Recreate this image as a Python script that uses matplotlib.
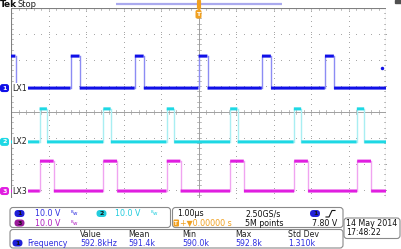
import numpy as np
import matplotlib.pyplot as plt
from matplotlib.patches import FancyBboxPatch, Rectangle

# horizontal scale: 1.00 us/div, 10 divisions, trigger at centre
# edge times (us, relative to trigger)
ch1_rise = [-5.12, -3.41, -1.70, 0.00, 1.69, 3.37, 5.08]
ch1_width = 0.24
ch2_rise = [-4.24, -2.54, -0.85, 0.84, 2.54, 4.22]
ch2_width = 0.20
ch3_rise = [-4.23, -2.54, -0.85, 0.84, 2.55, 4.23]
ch3_width = 0.37

# vertical: 10.0 V/div, ground marker positions (div) and pulse height (V)
ch_pos = [0.92, -1.15, -3.04]
ch_high = [12.3, 12.7, 11.5]
volts_per_div = 10.0

ch_names = ['LX1', 'LX2', 'LX3']
ch_colors = ['#1010e8', '#1ed8e4', '#e01ee0']
ch_edge_colors = ['#8c8cf4', '#a8eef2', '#f0a4f0']
ch_marker_colors = ['#2020d8', '#22ccdd', '#9a1a9a']

meas_headers = ['Value', 'Mean', 'Min', 'Max', 'Std Dev']
meas_values = ['592.8kHz', '591.4k', '590.0k', '592.8k', '1.310k']

fig = plt.figure(figsize=(4.01, 2.49), dpi=100)
fig.patch.set_facecolor('white')

# scope graticule: x 11..386 px, y 8..198 px (26 px/div)
ax = fig.add_axes([11 / 401, 1 - 198 / 249, 375 / 401, 190 / 249])
ymin = 4 - 190 / 26
ax.set_xlim(-5, 5)
ax.set_ylim(ymin, 4)
ax.axis('off')

grid_c = '#a0a0a0'
# dotted grid
for gx in range(-4, 5):
    if gx == 0:
        continue
    yy = np.arange(ymin, 4.001, 0.2)
    ax.plot(np.full_like(yy, gx), yy, ls='none', marker='s', ms=0.6, color=grid_c, mew=0)
for gy in range(-3, 4):
    if gy == 0:
        continue
    xx = np.arange(-5, 5.001, 0.2)
    ax.plot(xx, np.full_like(xx, gy), ls='none', marker='s', ms=0.6, color=grid_c, mew=0)
# centre cross and border with ticks
ax.plot([-5, 5], [0, 0], color='#909090', lw=0.6)
ax.plot([0, 0], [ymin, 4], color='#909090', lw=0.6)
tx = 2 / 37.5
ty = 2 / 26
for xt in np.arange(-5, 5.001, 0.2):
    ax.plot([xt, xt], [-ty, ty], color=grid_c, lw=0.5)
    ax.plot([xt, xt], [4, 4 - ty], color=grid_c, lw=0.5)
for yt in np.arange(4, ymin, -0.2):
    ax.plot([-tx, tx], [yt, yt], color=grid_c, lw=0.5)
    ax.plot([-5, -5 + tx], [yt, yt], color=grid_c, lw=0.5)
    ax.plot([5, 5 - tx], [yt, yt], color=grid_c, lw=0.5)
ax.plot([-5, -5, 5, 5], [ymin, 4, 4, ymin], color='#808080', lw=0.8)

# traces
t = np.linspace(-5, 5, 4001)
for rises, width, pos, high, col, ecol in zip(
        [ch1_rise, ch2_rise, ch3_rise], [ch1_width, ch2_width, ch3_width],
        ch_pos, ch_high, ch_colors, ch_edge_colors):
    on = np.zeros_like(t, dtype=bool)
    for r in rises:
        on |= (t >= r) & (t < r + width)
    v = pos + on * high / volts_per_div
    v[1:][np.diff(on.astype(int)) != 0] = np.nan
    for r in rises:
        for e in (r, r + width):
            if -5 < e < 5:
                ax.plot([e, e], [pos, pos + high / volts_per_div], color=ecol, lw=1, zorder=2)
    ax.plot(t, v, color=col, lw=2.2, solid_capstyle='butt', zorder=3)

# trigger level marker (CH1, 7.80 V)
ax.plot(4.9, ch_pos[0] + 7.8 / volts_per_div, marker='o', ms=2.5, color=ch_colors[0], mew=0,
        clip_on=False)

# overlay in pixel coordinates
ov = fig.add_axes([0, 0, 1, 1])
ov.set_xlim(0, 401)
ov.set_ylim(249, 0)
ov.axis('off')
ov.patch.set_alpha(0)

fs = 5.7
ov.text(0, 4.5, 'Tek', fontsize=6.5, fontweight='bold', va='center', ha='left', color='#111111')
ov.text(17, 4.5, 'Stop', fontsize=6, va='center', ha='left', color='#222222')
ov.plot([116, 282], [4, 4], color='#aaaaee', lw=1.6, solid_capstyle='butt')
ov.add_patch(Rectangle((395, 0), 6, 3, color='#505050'))
# trigger position marker
ov.plot([198.5, 198.5], [0.5, 8], color='#f0a020', lw=3, solid_capstyle='round')
ov.add_patch(FancyBboxPatch((195.5, 10), 6, 8.5, boxstyle='round,pad=0,rounding_size=1.5',
                            fc='#f0a020', ec='none'))
ov.text(198.5, 14.5, 'T', fontsize=4.5, color='white', ha='center', va='center', fontweight='bold')

# channel markers and labels
for pos, name, col in zip(ch_pos, ch_names, ch_colors):
    yp = 112 - pos * 26
    ov.add_patch(FancyBboxPatch((0, yp - 4), 9, 8, boxstyle='round,pad=0,rounding_size=2.5',
                                fc=col, ec='none'))
    ov.text(4.5, yp, name[-1], fontsize=4.5, color='white', ha='center', va='center', fontweight='bold')
    ov.text(12.5, yp, name, fontsize=fs, color='#222222', ha='left', va='center',
            bbox=dict(fc='white', ec='none', pad=0.6))


def box(x0, y0, x1, y1):
    ov.add_patch(FancyBboxPatch((x0, y0), x1 - x0, y1 - y0,
                                boxstyle='round,pad=0,rounding_size=3',
                                fc='white', ec='#8a8a8a', lw=0.8))


def oval(xc, yc, label, col):
    ov.add_patch(FancyBboxPatch((xc - 5, yc - 3.5), 10, 7, boxstyle='round,pad=0,rounding_size=3.5',
                                fc=col, ec='none'))
    ov.text(xc, yc, label, fontsize=4.5, color='#111111', ha='center', va='center', fontweight='bold')


def bw_icon(x, y, col):
    ov.text(x, y, r'$^{\mathrm{B}}\mathrm{w}$', fontsize=4, color=col, ha='center', va='center')


# vertical settings box
box(10, 207.5, 170.5, 227.5)
oval(19.5, 213.5, '1', ch_marker_colors[0])
ov.text(35, 213.5, '10.0 V', fontsize=fs, color='#3030e0', va='center')
bw_icon(75, 213.5, '#3030e0')
oval(101.5, 213.5, '2', ch_marker_colors[1])
ov.text(115, 213.5, '10.0 V', fontsize=fs, color='#22ccdd', va='center')
bw_icon(155, 213.5, '#22ccdd')
oval(19.5, 223, '3', ch_marker_colors[2])
ov.text(35, 223, '10.0 V', fontsize=fs, color='#b020c0', va='center')
bw_icon(75, 223, '#b020c0')

# horizontal / trigger box
box(172.5, 207.5, 343, 227.5)
ov.text(177, 213.5, '1.00\u00b5s', fontsize=fs, color='#111111', va='center')
ov.text(245, 213.5, '2.50GS/s', fontsize=fs, color='#111111', va='center')
oval(315, 213.5, '1', ch_marker_colors[0])
ov.plot([326, 329, 332, 335], [217, 217, 210.5, 210.5], color='#111111', lw=0.8)
ov.add_patch(FancyBboxPatch((173.5, 219.5), 5.5, 7, boxstyle='round,pad=0,rounding_size=1',
                            fc='#f0a020', ec='none'))
ov.text(176.2, 223, 'T', fontsize=4, color='white', ha='center', va='center', fontweight='bold')
ov.text(179.5, 223, '+\u25bc0.00000 s', fontsize=fs, color='#f0a020', va='center')
ov.text(245, 223, '5M points', fontsize=fs, color='#111111', va='center')
ov.text(337, 223, '7.80 V', fontsize=fs, color='#111111', va='center', ha='right')

# date box
box(344, 218, 400, 238.5)
ov.text(346, 223.5, '14 May 2014', fontsize=fs, color='#111111', va='center')
ov.text(346, 232.5, '17:48:22', fontsize=fs, color='#111111', va='center')

# measurement box
box(10, 229.5, 343, 248)
head_x = [80, 128, 182, 235, 288]
for hx, h in zip(head_x, meas_headers):
    ov.text(hx, 234, h, fontsize=fs, color='#222222', va='center')
oval(17.5, 243, '1', ch_marker_colors[0])
ov.text(27, 243, 'Frequency', fontsize=fs, color='#3030e0', va='center')
for hx, v in zip(head_x, meas_values):
    ov.text(hx, 243, v, fontsize=fs, color='#3030e0', va='center')

fig.savefig('out.png', dpi=100, facecolor='white')
